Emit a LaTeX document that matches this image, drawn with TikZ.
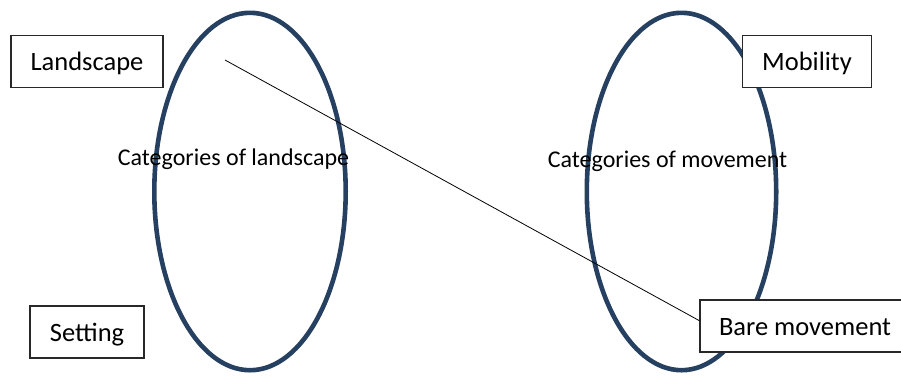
\documentclass[tikz,border=0pt]{standalone}
\usepackage{fontspec}
\setmainfont{Carlito}
\definecolor{navy}{RGB}{38,64,97}
\definecolor{boxline}{RGB}{40,40,40}
\begin{document}
\begin{tikzpicture}[x=1pt,y=-1pt,
  ring/.style={draw=navy,line width=4.6pt},
  labelbox/.style={draw=boxline,line width=1.2pt,fill=white,inner sep=0pt,
    minimum height=52pt,text height=22pt,text depth=3.6pt,
    font=\fontsize{26.5}{31}\selectfont},
  inlabel/.style={anchor=base,inner sep=0pt,font=\fontsize{24}{28}\selectfont},
  link/.style={draw=black,line width=0.8pt}]
\useasboundingbox (0,0) rectangle (901,376);
% ellipses
\draw[ring] (250,191.5) ellipse [x radius=95.7pt, y radius=178.7pt];
\draw[ring] (681.5,191.5) ellipse [x radius=94.7pt, y radius=178.7pt];
% inner labels
\node[inlabel] (catland) at (233.5,165) {Categories of landscape};
\node[inlabel] (catmove) at (667.5,167) {Categories of movement};
% boxes
\node[labelbox,minimum width=152pt] (landscape) at (87,61.5) {Landscape};
\node[labelbox,minimum width=114pt] (setting) at (87,332) {Setting};
\coordinate (start) at (225,60);
\node[labelbox,minimum width=210pt] (bare) at (805,326) {Bare movement};
\draw[link] (start) -- ([yshift=5.3pt]bare.west);
\node[labelbox,minimum width=129pt] (mobility) at (807,61.5) {Mobility};
\end{tikzpicture}
\end{document}
